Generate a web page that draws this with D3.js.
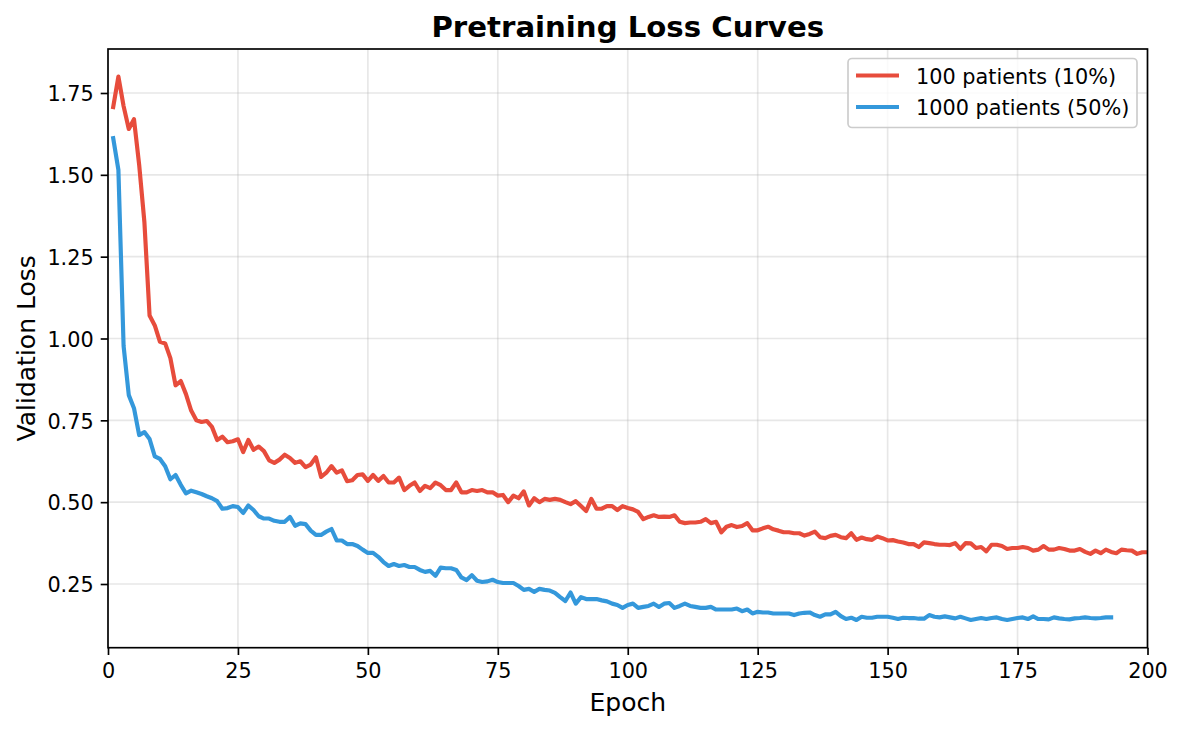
<!DOCTYPE html>
<html>
<head>
<meta charset="utf-8">
<script src="https://cdn.jsdelivr.net/npm/d3@7"></script>
<style>
  body { margin: 0; background: #fff; }
  svg { display: block; font-family: "DejaVu Sans", sans-serif; }
</style>
</head>
<body>
<div id="chart"></div>
<script>
// series values (validation loss per epoch)
var red100 = [
  1.707, 1.80, 1.71, 1.64, 1.67, 1.53, 1.356, 1.07, 1.04, 0.99,
  0.985, 0.94, 0.857, 0.87, 0.83, 0.78, 0.75, 0.745, 0.748, 0.73,
  0.69, 0.70, 0.683, 0.686, 0.692, 0.653, 0.69, 0.66, 0.67, 0.656,
  0.628, 0.62, 0.63, 0.645, 0.635, 0.62, 0.625, 0.607, 0.615, 0.637,
  0.577, 0.59, 0.61, 0.59, 0.597, 0.564, 0.567, 0.583, 0.585, 0.565,
  0.583, 0.565, 0.58, 0.56, 0.56, 0.575, 0.537, 0.55, 0.56, 0.534,
  0.55, 0.543, 0.56, 0.552, 0.537, 0.537, 0.56, 0.53, 0.53, 0.537,
  0.534, 0.537, 0.53, 0.53, 0.52, 0.522, 0.50, 0.52, 0.512, 0.533,
  0.49, 0.512, 0.50, 0.51, 0.507, 0.51, 0.507, 0.50, 0.494, 0.503,
  0.488, 0.473, 0.51, 0.48, 0.48, 0.488, 0.488, 0.476, 0.488, 0.482,
  0.478, 0.47, 0.448, 0.455, 0.46, 0.455, 0.456, 0.455, 0.46, 0.44,
  0.436, 0.438, 0.438, 0.44, 0.448, 0.436, 0.44, 0.408, 0.425, 0.43,
  0.424, 0.427, 0.436, 0.414, 0.414, 0.42, 0.425, 0.417, 0.413, 0.408,
  0.408, 0.405, 0.405, 0.398, 0.403, 0.41, 0.393, 0.39, 0.397, 0.40,
  0.393, 0.39, 0.405, 0.385, 0.392, 0.387, 0.385, 0.395, 0.39, 0.383,
  0.384, 0.38, 0.377, 0.372, 0.372, 0.363, 0.377, 0.375, 0.372, 0.37,
  0.37, 0.369, 0.375, 0.357, 0.375, 0.374, 0.36, 0.363, 0.35, 0.37,
  0.37, 0.366, 0.357, 0.36, 0.36, 0.363, 0.36, 0.352, 0.355, 0.366,
  0.355, 0.355, 0.36, 0.357, 0.352, 0.352, 0.357, 0.348, 0.342, 0.352,
  0.344, 0.355, 0.348, 0.344, 0.355, 0.353, 0.352, 0.342, 0.347, 0.347
];
var blue1000 = [
  1.612, 1.515, 0.977, 0.827, 0.787, 0.705, 0.714, 0.693, 0.64, 0.632,
  0.61, 0.57, 0.583, 0.553, 0.527, 0.535, 0.53, 0.525, 0.518, 0.512,
  0.503, 0.48, 0.482, 0.488, 0.485, 0.467, 0.49, 0.476, 0.457, 0.45,
  0.45, 0.443, 0.44, 0.44, 0.455, 0.428, 0.435, 0.433, 0.413, 0.40,
  0.40, 0.41, 0.418, 0.383, 0.383, 0.372, 0.372, 0.366, 0.355, 0.345,
  0.345, 0.333, 0.317, 0.305, 0.311, 0.305, 0.308, 0.302, 0.302, 0.293,
  0.287, 0.29, 0.275, 0.30, 0.298, 0.298, 0.293, 0.27, 0.262, 0.277,
  0.26, 0.256, 0.258, 0.263, 0.256, 0.253, 0.253, 0.253, 0.244, 0.232,
  0.235, 0.226, 0.235, 0.232, 0.23, 0.223, 0.21, 0.198, 0.224, 0.19,
  0.21, 0.204, 0.204, 0.204, 0.20, 0.197, 0.19, 0.186, 0.177, 0.186,
  0.19, 0.177, 0.18, 0.183, 0.19, 0.18, 0.19, 0.192, 0.177, 0.183,
  0.19, 0.183, 0.18, 0.177, 0.177, 0.18, 0.172, 0.172, 0.172, 0.172,
  0.175, 0.167, 0.172, 0.16, 0.165, 0.163, 0.163, 0.16, 0.16, 0.16,
  0.16, 0.155, 0.16, 0.162, 0.163, 0.155, 0.15, 0.157, 0.157, 0.165,
  0.152, 0.143, 0.147, 0.14, 0.15, 0.147, 0.147, 0.15, 0.15, 0.15,
  0.147, 0.143, 0.147, 0.146, 0.146, 0.144, 0.144, 0.155, 0.15, 0.148,
  0.151, 0.148, 0.145, 0.15, 0.145, 0.14, 0.143, 0.146, 0.143, 0.146,
  0.148, 0.143, 0.14, 0.143, 0.146, 0.148, 0.143, 0.151, 0.143, 0.143,
  0.142, 0.148, 0.145, 0.143, 0.142, 0.145, 0.146, 0.148, 0.146, 0.145,
  0.146, 0.148, 0.148
];
var seriesNames = ["100 patients (10%)", "1000 patients (50%)"];
var seriesColors = ["#e74c3c", "#3498db"];

// tick labels
var xTicks = [0, 25, 50, 75, 100, 125, 150, 175, 200];
var yTicks = [0.25, 0.50, 0.75, 1.00, 1.25, 1.50, 1.75];

var W = 1182, H = 730;
var margin = {left: 108, right: 1147.5, top: 49, bottom: 647.7};

var svg = d3.select('#chart').append('svg')
    .attr('width', W)
    .attr('height', H);

var x = d3.scaleLinear().domain([0, 200]).range([margin.left, margin.right]);
var y = d3.scaleLinear().domain([0.0554, 1.8844]).range([margin.bottom, margin.top]);

// grid
svg.append('g').selectAll('line').data(xTicks).enter().append('line')
    .attr('x1', function (d) { return x(d); })
    .attr('x2', function (d) { return x(d); })
    .attr('y1', margin.top).attr('y2', margin.bottom)
    .attr('stroke', '#b0b0b0').attr('stroke-opacity', 0.3).attr('stroke-width', 1.67);
svg.append('g').selectAll('line').data(yTicks).enter().append('line')
    .attr('y1', function (d) { return y(d); })
    .attr('y2', function (d) { return y(d); })
    .attr('x1', margin.left).attr('x2', margin.right)
    .attr('stroke', '#b0b0b0').attr('stroke-opacity', 0.3).attr('stroke-width', 1.67);

// lines
svg.append('clipPath').attr('id', 'clip').append('rect')
    .attr('x', margin.left).attr('y', margin.top)
    .attr('width', margin.right - margin.left)
    .attr('height', margin.bottom - margin.top);

var line = d3.line()
    .x(function (d, i) { return x(i + 1); })
    .y(function (d) { return y(d); });

[red100, blue1000].forEach(function (s, k) {
    svg.append('path')
        .attr('d', line(s))
        .attr('clip-path', 'url(#clip)')
        .attr('fill', 'none')
        .attr('stroke', seriesColors[k])
        .attr('stroke-width', 4.17)
        .attr('stroke-linejoin', 'round')
        .attr('stroke-linecap', 'square');
});

// axes
var xAxis = d3.axisBottom(x).tickValues(xTicks).tickSize(7.3).tickPadding(7).tickFormat(d3.format('d'));
var yAxis = d3.axisLeft(y).tickValues(yTicks).tickSize(7.3).tickPadding(7).tickFormat(d3.format('.2f'));

var gx = svg.append('g').attr('transform', 'translate(0,' + margin.bottom + ')').call(xAxis);
var gy = svg.append('g').attr('transform', 'translate(' + margin.left + ',0)').call(yAxis);
[gx, gy].forEach(function (g) {
    g.select('.domain').remove();
    g.selectAll('line').attr('stroke', '#000').attr('stroke-width', 1.67);
    g.selectAll('text').attr('font-size', '20.8px').attr('fill', '#000')
        .attr('font-family', '"DejaVu Sans", sans-serif');
});
gx.selectAll('text').attr('dy', '0.76em');
gy.selectAll('text').attr('dy', '0.37em');

// frame
svg.append('rect')
    .attr('x', margin.left).attr('y', margin.top)
    .attr('width', margin.right - margin.left)
    .attr('height', margin.bottom - margin.top)
    .attr('fill', 'none').attr('stroke', '#000').attr('stroke-width', 1.67);

// title and labels
svg.append('text')
    .attr('x', (margin.left + margin.right) / 2).attr('y', 36.5)
    .attr('text-anchor', 'middle')
    .attr('font-size', '29.2px').attr('font-weight', 'bold')
    .text('Pretraining Loss Curves');

svg.append('text')
    .attr('x', (margin.left + margin.right) / 2).attr('y', 711)
    .attr('text-anchor', 'middle')
    .attr('font-size', '25px')
    .text('Epoch');

svg.append('text')
    .attr('transform', 'translate(35,' + (margin.top + margin.bottom) / 2 + ') rotate(-90)')
    .attr('text-anchor', 'middle')
    .attr('font-size', '25px')
    .text('Validation Loss');

// legend
var legend = svg.append('g');
legend.append('rect')
    .attr('x', 848).attr('y', 58.5).attr('width', 289).attr('height', 69)
    .attr('rx', 4).attr('ry', 4)
    .attr('fill', '#fff').attr('fill-opacity', 0.8)
    .attr('stroke', '#cccccc').attr('stroke-width', 1.67);

seriesNames.forEach(function (name, k) {
    var ly = 75.5 + k * 31.5;
    legend.append('line')
        .attr('x1', 856).attr('x2', 899)
        .attr('y1', ly).attr('y2', ly)
        .attr('stroke', seriesColors[k]).attr('stroke-width', 4.17);
    legend.append('text')
        .attr('x', 916).attr('y', ly + 8)
        .attr('font-size', '20.8px')
        .text(name);
});
</script>
</body>
</html>
